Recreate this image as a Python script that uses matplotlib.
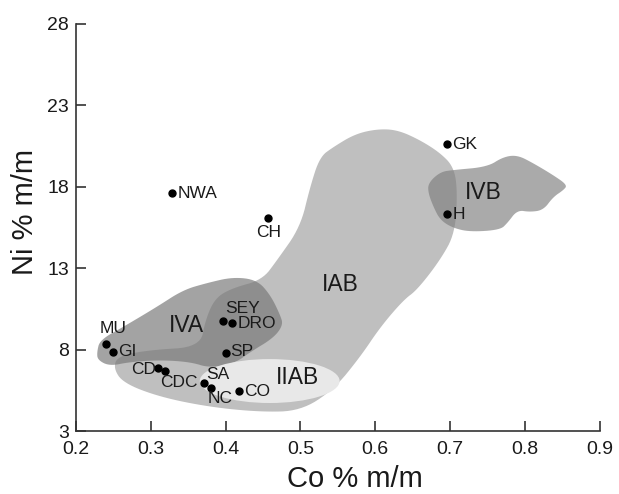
import matplotlib
matplotlib.use("Agg")
import numpy as np
import matplotlib.pyplot as plt
from matplotlib.patches import Polygon, Ellipse

plt.rcParams['font.family'] = ['Liberation Sans', 'DejaVu Sans']

# meteorites (Co %, Ni %)
names = ['NWA', 'CH', 'GK', 'H', 'MU', 'GI', 'SEY', 'DRO', 'SP',
         'CD', 'CDC', 'SA', 'NC', 'CO']
co = [0.328, 0.457, 0.696, 0.696, 0.240, 0.249, 0.397, 0.409, 0.400,
      0.309, 0.319, 0.371, 0.380, 0.418]
ni = [17.6, 16.1, 20.6, 16.3, 8.33, 7.87, 9.76, 9.62, 7.81,
      6.85, 6.69, 5.93, 5.62, 5.46]

# label placement: (dx, dy) in points, ha, va
label_pos = {
    'NWA': (4, 0, 'left', 'center'),
    'CH': (0, -5, 'center', 'top'),
    'GK': (4, 0, 'left', 'center'),
    'H': (4, 0, 'left', 'center'),
    'MU': (5, 11, 'center', 'center'),
    'GI': (4, 0, 'left', 'center'),
    'SEY': (1, 9, 'left', 'center'),
    'DRO': (4, 0, 'left', 'center'),
    'SP': (3, 1, 'left', 'center'),
    'CD': (-1, -1, 'right', 'center'),
    'CDC': (-3.5, -8.5, 'left', 'center'),
    'SA': (2, 6.5, 'left', 'center'),
    'NC': (-2, -7, 'left', 'center'),
    'CO': (4, -0.5, 'left', 'center'),
}

# group fields (Co %, Ni %)
iab_co = [0.603, 0.630, 0.660, 0.687, 0.705, 0.710, 0.707, 0.687, 0.656, 0.638,
          0.607, 0.580, 0.544, 0.500, 0.446, 0.379, 0.312, 0.263, 0.250, 0.256,
          0.299, 0.366, 0.373, 0.386, 0.409, 0.449, 0.469, 0.500, 0.513, 0.526,
          0.544, 0.573]
iab_ni = [21.55, 21.49, 20.87, 20.08, 19.22, 17.80, 15.16, 13.50, 11.66, 11.05,
          9.39, 7.55, 5.52, 4.23, 4.17, 4.47, 5.09, 5.95, 6.87, 7.61,
          7.98, 8.16, 9.82, 11.17, 11.78, 12.28, 13.50, 15.53, 17.99, 19.83,
          20.44, 21.24]

iva_co = [0.228, 0.232, 0.263, 0.308, 0.343, 0.375, 0.410, 0.442, 0.460, 0.473,
          0.477, 0.464, 0.433, 0.413, 0.379, 0.353, 0.312, 0.272, 0.245, 0.229]
iva_ni = [7.85, 8.59, 9.39, 10.62, 11.66, 12.09, 12.46, 12.28, 11.35, 10.13,
          9.51, 8.71, 7.85, 7.18, 6.87, 7.24, 7.36, 7.24, 6.99, 7.36]

ivb_co = [0.671, 0.687, 0.704, 0.750, 0.771, 0.790, 0.811, 0.838, 0.857, 0.852,
          0.838, 0.825, 0.807, 0.790, 0.777, 0.767, 0.727, 0.704, 0.687, 0.678,
          0.671]
ivb_ni = [18.23, 18.91, 19.03, 19.22, 19.83, 19.95, 19.46, 18.72, 18.11, 17.80,
          17.37, 16.57, 16.45, 16.57, 15.78, 15.35, 15.23, 15.47, 15.96, 16.76,
          17.62]

iiab_center = (0.459, 6.07)
iiab_w, iiab_h = 0.187, 2.7

groups = ['IAB', 'IVA', 'IVB', 'IIAB']
group_label_xy = [(0.553, 11.97), (0.347, 9.51), (0.745, 17.62), (0.496, 6.26)]


def smooth(xs, ys, n=3):
    # chaikin corner cutting, closed outline
    pts = np.column_stack([xs, ys])
    for _ in range(n):
        nxt = np.roll(pts, -1, axis=0)
        q = 0.75 * pts + 0.25 * nxt
        r = 0.25 * pts + 0.75 * nxt
        pts = np.empty((2 * len(q), 2))
        pts[0::2] = q
        pts[1::2] = r
    return pts


fig = plt.figure(figsize=(6.19, 4.94), dpi=100)
ax = fig.add_axes([0.1228, 0.1275, 0.8457, 0.824])

ax.add_patch(Polygon(smooth(iab_co, iab_ni), closed=True,
                     facecolor='#bfbfbf', edgecolor='none', zorder=1))
ax.add_patch(Polygon(smooth(iva_co, iva_ni), closed=True,
                     facecolor='#787878', alpha=0.68, edgecolor='none', zorder=2))
ax.add_patch(Polygon(smooth(ivb_co, ivb_ni), closed=True,
                     facecolor='#7d7d7d', alpha=0.65, edgecolor='none', zorder=2))
ax.add_patch(Ellipse(iiab_center, iiab_w, iiab_h,
                     facecolor='#e8e8e8', edgecolor='none', zorder=3))

for g, (gx, gy) in zip(groups, group_label_xy):
    ax.text(gx, gy, g, fontsize=16.5, ha='center', va='center',
            color='#1a1a1a', zorder=5)

ax.scatter(co, ni, s=25, color='black', zorder=6)
for n, x, y in zip(names, co, ni):
    dx, dy, ha, va = label_pos[n]
    ax.annotate(n, (x, y), xytext=(dx, dy), textcoords='offset points',
                ha=ha, va=va, fontsize=12.5, color='#1a1a1a', zorder=7)

ax.set_xlim(0.2, 0.9)
ax.set_ylim(3, 28)
ax.set_xticks([0.2, 0.3, 0.4, 0.5, 0.6, 0.7, 0.8, 0.9])
ax.set_xticklabels(['0.2', '0.3', '0.4', '0.5', '0.6', '0.7', '0.8', '0.9'])
ax.set_yticks([3, 8, 13, 18, 23, 28])

for side in ['top', 'right']:
    ax.spines[side].set_visible(False)
for side in ['left', 'bottom']:
    ax.spines[side].set_color('#333333')
    ax.spines[side].set_linewidth(1.2)

ax.tick_params(axis='both', direction='in', length=7, width=1.2,
               colors='#333333', labelcolor='#1a1a1a', labelsize=14)
ax.tick_params(axis='x', pad=7)
ax.tick_params(axis='y', pad=5)

fig.text(0.574, 0.014, 'Co % m/m', fontsize=21, color='#1a1a1a',
         ha='center', va='baseline')
fig.text(0.040, 0.570, 'Ni % m/m', fontsize=21, color='#1a1a1a',
         ha='center', va='center', rotation=90)

fig.savefig('out.png', dpi=100)
